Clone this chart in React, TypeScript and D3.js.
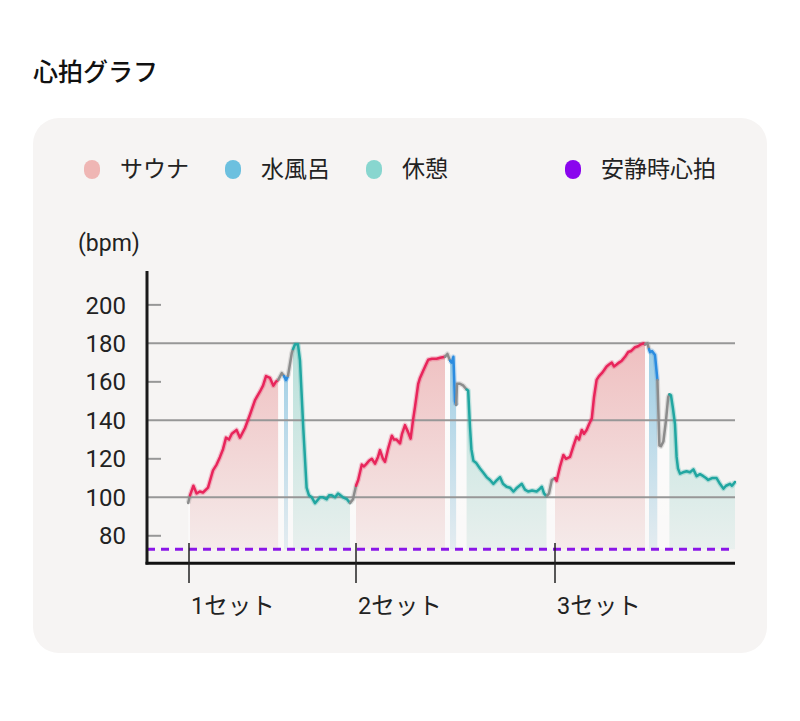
import React from "react";
import * as d3 from "d3";

type P = [number, number];
type Kind = "sauna" | "water" | "rest" | "gap";

// time in minutes, heart rate in bpm
const gap0: P[] = [[10.3, 97], [10.75, 101]];
const sauna1: P[] = [[10.75, 101], [11.6, 106], [12.4, 102], [13.2, 103], [14, 102.5], [15.25, 105], [16.5, 114], [17.4, 117], [18.25, 121], [19, 125], [19.75, 131], [20.5, 130], [21.2, 133], [22.4, 135], [23.25, 131], [24.5, 136], [25.75, 143], [27, 150.5], [28.25, 155], [29, 158], [29.75, 163], [30.75, 162], [31.6, 158], [32.2, 160], [32.8, 161]];
const gap1: P[] = [[32.8, 161], [33.7, 164.5], [34.25, 163]];
const water1: P[] = [[34.25, 163], [34.75, 161], [35.25, 163]];
const gap2: P[] = [[35.25, 163], [36.2, 175], [36.5, 177]];
const rest1: P[] = [[36.5, 177], [37, 179.5], [37.75, 179.5], [38.25, 171], [39.1, 135], [39.9, 105], [40.5, 101], [41.2, 100], [42, 97], [43.25, 100], [44, 100], [44.9, 99], [45.5, 101], [46.2, 101], [47, 100], [47.75, 102], [48.4, 101], [49, 100], [50, 99], [50.75, 97]];
const gap3: P[] = [[50.75, 97], [51.5, 99], [52.25, 106]];
const sauna2: P[] = [[52.25, 106], [52.8, 109], [53.7, 117], [54.25, 116], [54.9, 117.5], [55.5, 119], [56.2, 120], [57, 117.5], [57.75, 121], [58.25, 124.5], [59, 120], [59.5, 118.5], [60.25, 125], [61.2, 132], [61.75, 130], [62.4, 130], [63.25, 128], [63.75, 133], [64.5, 137.5], [65.25, 134], [65.9, 130.5], [66.5, 140], [67, 147], [67.8, 159], [68.25, 162], [69.1, 166], [69.75, 169], [70.3, 171.5], [71.25, 172], [72.4, 172], [73.25, 172.5], [74.5, 173]];
const gap4: P[] = [[74.5, 173], [75.1, 174.5], [75.75, 171]];
const water2: P[] = [[75.75, 171], [76.2, 170], [76.6, 173], [77, 150], [77.3, 148]];
const gap5: P[] = [[77.3, 148], [77.5, 159], [78.25, 159], [79.1, 158], [79.9, 156]];
const rest2: P[] = [[79.9, 156], [80.3, 155.5], [80.75, 136.5], [81.1, 125], [81.6, 119], [82.25, 118], [83.25, 115], [84, 113], [84.9, 110.5], [85.75, 109], [86.6, 107], [87.5, 109], [88.25, 110.5], [89, 107], [89.9, 105.5], [90.75, 105], [91.6, 103], [92.5, 105], [93.7, 107], [94.5, 104], [95.3, 103], [96.25, 103.5], [97.4, 103], [98, 104], [98.7, 105.5], [99.25, 102], [99.9, 100.5]];
const gap6: P[] = [[99.9, 100.5], [100.5, 102], [101.2, 109], [102, 110]];
const sauna3: P[] = [[102, 110], [102.4, 108.5], [103.25, 116], [104.1, 122], [104.75, 120], [105.75, 121], [106.5, 126], [107.4, 131.5], [108, 130], [108.7, 135], [109.25, 133], [109.9, 135], [110.5, 138], [111.2, 141], [111.75, 152], [112.4, 161], [113, 163], [113.7, 164.5], [114.25, 166], [114.9, 168], [115.5, 169], [116.2, 170], [116.75, 168], [117.4, 169], [118, 170], [118.7, 171], [119.5, 173], [120.3, 175.5], [121, 176], [122, 178], [122.75, 178.5], [123.5, 179.5], [124.1, 180], [124.5, 179.5]];
const gap7: P[] = [[124.5, 179.5], [125.1, 180], [125.5, 177]];
const water3: P[] = [[125.5, 177], [125.75, 175.5], [126.25, 176], [127, 174], [127.6, 161]];
const gap8: P[] = [[127.6, 161], [128.1, 127], [128.5, 126.5], [129.1, 129], [129.75, 140], [130.3, 152], [130.6, 153.5]];
const rest3: P[] = [[130.6, 153.5], [131, 153], [131.5, 146], [132, 138], [132.4, 121], [132.75, 115], [133.25, 112.3], [134, 113], [134.9, 113.5], [135.75, 113], [136.6, 114.5], [137.4, 111], [138.25, 112], [139.1, 111], [139.75, 110], [140.3, 109], [141.25, 110], [142.4, 110], [143.25, 107], [144.1, 104.5], [144.75, 106], [145.75, 107], [146.25, 106], [147, 108]];

const segments: { kind: Kind; pts: P[] }[] = [
  { kind: "gap", pts: gap0 },
  { kind: "sauna", pts: sauna1 },
  { kind: "gap", pts: gap1 },
  { kind: "water", pts: water1 },
  { kind: "gap", pts: gap2 },
  { kind: "rest", pts: rest1 },
  { kind: "gap", pts: gap3 },
  { kind: "sauna", pts: sauna2 },
  { kind: "gap", pts: gap4 },
  { kind: "water", pts: water2 },
  { kind: "gap", pts: gap5 },
  { kind: "rest", pts: rest2 },
  { kind: "gap", pts: gap6 },
  { kind: "sauna", pts: sauna3 },
  { kind: "gap", pts: gap7 },
  { kind: "water", pts: water3 },
  { kind: "gap", pts: gap8 },
  { kind: "rest", pts: rest3 },
];

const yTicks = [80, 100, 120, 140, 160, 180, 200];
const gridValues = [100, 140, 180];
const restingHR = 73;
const setTicks = [10.5, 52.25, 102];
const setLabels = ["1セット", "2セット", "3セット"];
const legendItems = [
  { label: "サウナ", color: "#efb6b4", x: 92 },
  { label: "水風呂", color: "#6cc0df", x: 233 },
  { label: "休憩", color: "#88d6cf", x: 374 },
  { label: "安静時心拍", color: "#8a05ee", x: 573 },
];

const lineColor: Record<Kind, string> = {
  sauna: "#e8255b",
  water: "#2b8ce0",
  rest: "#21a6a1",
  gap: "#8c8c8c",
};
const fillTop: Record<Kind, [string, number, number]> = {
  sauna: ["#e99496", 0.55, 0.1],
  water: ["#5fb2da", 0.6, 0.12],
  rest: ["#86d0c6", 0.55, 0.12],
  gap: ["#ffffff", 0.75, 0.45],
};

const FONT = "Roboto, 'Noto Sans CJK JP', sans-serif";

export default function App() {
  const x = d3.scaleLinear().domain([0, 147]).range([147, 735]);
  const y = d3.scaleLinear().domain([65.7, 217.6]).range([563.3, 271]);
  const line = d3.line<P>().x((d) => x(d[0])).y((d) => y(d[1]));
  const area = d3
    .area<P>()
    .x((d) => x(d[0]))
    .y0(y(restingHR))
    .y1((d) => y(d[1]));
  const kinds: Kind[] = ["sauna", "water", "rest", "gap"];

  return (
    <svg
      width={800}
      height={721}
      style={{ position: "absolute", left: 0, top: 0 }}
      fontFamily={FONT}
    >
      <defs>
        {kinds.map((k) => (
          <linearGradient
            key={k}
            id={`g-${k}`}
            gradientUnits="userSpaceOnUse"
            x1={0}
            x2={0}
            y1={y(180)}
            y2={y(restingHR)}
          >
            <stop offset="0" stopColor={fillTop[k][0]} stopOpacity={fillTop[k][1]} />
            <stop offset="1" stopColor={fillTop[k][0]} stopOpacity={fillTop[k][2]} />
          </linearGradient>
        ))}
      </defs>
      <rect width={800} height={721} fill="#ffffff" />
      <text x={33} y={72} dy="0.35em" fontSize={25} fontWeight={500} fill="#111">
        心拍グラフ
      </text>
      <rect x={33} y={118} width={734} height={535} rx={26} fill="#f6f4f3" />

      {legendItems.map((it) => (
        <g key={it.label}>
          <rect x={it.x - 8} y={160} width={16} height={19} rx={8} fill={it.color} />
          <text x={it.x + 28} y={169} dy="0.35em" fontSize={23} fill="#222">
            {it.label}
          </text>
        </g>
      ))}

      <text x={78} y={243} dy="0.35em" fontSize={23} fill="#222">
        (bpm)
      </text>

      {/* fills */}
      {segments.map((s, i) => (
        <path key={`a${i}`} d={area(s.pts) || ""} fill={`url(#g-${s.kind})`} />
      ))}

      {/* grid */}
      {yTicks.map((v) => (
        <g key={v}>
          <line
            x1={147}
            x2={gridValues.includes(v) ? 735 : 161}
            y1={y(v)}
            y2={y(v)}
            stroke="#979797"
            strokeWidth={2}
          />
          <text
            x={126}
            y={y(v)}
            dy="0.36em"
            textAnchor="end"
            fontSize={24}
            fill="#222"
          >
            {v}
          </text>
        </g>
      ))}

      {/* lines */}
      {segments.map((s, i) => (
        <path
          key={`s${i}`}
          d={line(s.pts) || ""}
          fill="none"
          stroke={lineColor[s.kind]}
          strokeOpacity={0.25}
          strokeWidth={5}
          strokeLinejoin="round"
        />
      ))}
      {segments.map((s, i) => (
        <path
          key={`l${i}`}
          d={line(s.pts) || ""}
          fill="none"
          stroke={lineColor[s.kind]}
          strokeWidth={2.5}
          strokeLinejoin="round"
          strokeLinecap="round"
        />
      ))}

      {/* resting heart rate */}
      <line
        x1={147}
        x2={735}
        y1={y(restingHR)}
        y2={y(restingHR)}
        stroke="#8a16e8"
        strokeWidth={3}
        strokeDasharray="8 6"
      />

      {/* axes */}
      <line x1={147} x2={147} y1={271} y2={564.5} stroke="#1a1a1a" strokeWidth={3} />
      <line x1={145.5} x2={735} y1={563.3} y2={563.3} stroke="#111" strokeWidth={3} />

      {setTicks.map((t, i) => (
        <g key={t}>
          <line x1={x(t)} x2={x(t)} y1={543} y2={583} stroke="#222" strokeWidth={1.5} />
          <text x={x(t) + 2} y={606} dy="0.35em" fontSize={23.5} fill="#222">
            {setLabels[i]}
          </text>
        </g>
      ))}
    </svg>
  );
}
